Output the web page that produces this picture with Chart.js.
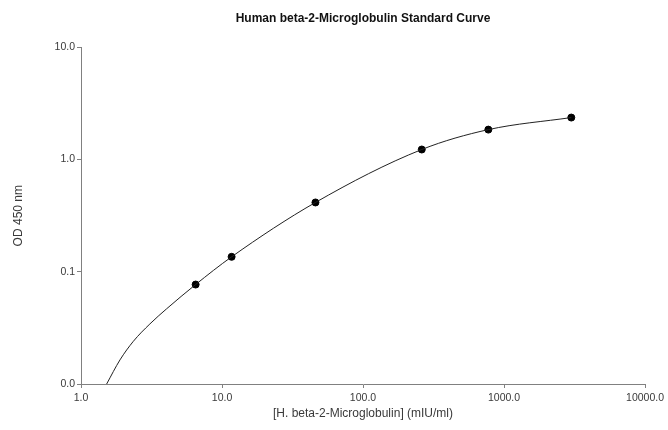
<!DOCTYPE html>
<html>
<head>
<meta charset="utf-8">
<script src="https://cdn.jsdelivr.net/npm/chart.js@4"></script>
<style>
	body{margin:0;background:#fff;}
	#wrap{width:668px;height:430px;}
</style>
</head>
<body>
<div id="wrap"><canvas id="stdCurve" width="668" height="430"></canvas></div>
<script>
//standard points (concentration, OD)
const concentrations = [6.5, 11.7, 46, 261, 774, 3000];
const odValues = [0.077, 0.136, 0.415, 1.23, 1.85, 2.37];
//fitted curve
const curveX = [1.52, 1.89, 2.35, 3.08, 4.04, 6.5, 11.7, 46, 261, 774, 3000];
const curveY = [0.01, 0.0164, 0.0240, 0.0343, 0.0467, 0.077, 0.136, 0.415, 1.23, 1.85, 2.37];
//tick labels
const xTicks = [1, 10, 100, 1000, 10000];
const yTicks = [0.01, 0.1, 1, 10];

const axisColor = '#808080';
const textColor = '#3a3a3a';
const fontName = '"Liberation Sans", Arial, sans-serif';

function toPoints(xs, ys){
	return xs.map(function(x, i){ return {x: x, y: ys[i]}; });
}

var ctx = document.getElementById('stdCurve');
var chart = new Chart(ctx, {
	type: 'scatter',
	data: {
		datasets: [{
			label: 'curve',
			type: 'line',
			data: toPoints(curveX, curveY),
			borderColor: '#222',
			borderWidth: 1,
			pointRadius: 0,
			cubicInterpolationMode: 'monotone',
			fill: false
		}, {
			label: 'standards',
			data: toPoints(concentrations, odValues),
			backgroundColor: '#000',
			borderColor: '#000',
			pointRadius: 3.5,
			pointHoverRadius: 3.5
		}]
	},
	options: {
		responsive: false,
		animation: false,
		layout: {padding: {left: 0, right: 22, top: 0, bottom: 0}},
		plugins: {
			legend: {display: false},
			tooltip: {enabled: false},
			title: {
				display: true,
				fullSize: false,
				text: 'Human beta-2-Microglobulin Standard Curve',
				color: '#111',
				font: {family: fontName, size: 12, weight: 'bold'},
				padding: {top: 11, bottom: 22}
			}
		},
		scales: {
			x: {
				type: 'logarithmic',
				min: 1,
				max: 10000,
				afterBuildTicks: function(axis){
					axis.ticks = xTicks.map(function(v){ return {value: v}; });
				},
				afterFit: function(axis){ axis.height = 46; },
				ticks: {
					autoSkip: false,
					maxRotation: 0,
					color: textColor,
					font: {family: fontName, size: 10.5},
					padding: 4,
					callback: function(v){ return Number(v).toFixed(1); }
				},
				grid: {display: true, drawOnChartArea: false, drawTicks: true, tickLength: 4, color: axisColor},
				border: {color: axisColor, width: 1},
				title: {
					display: true,
					text: '[H. beta-2-Microglobulin] (mIU/ml)',
					color: textColor,
					font: {family: fontName, size: 12},
					padding: {top: 6, bottom: 9}
				}
			},
			y: {
				type: 'logarithmic',
				min: 0.01,
				max: 10,
				afterBuildTicks: function(axis){
					axis.ticks = yTicks.map(function(v){ return {value: v}; });
				},
				afterFit: function(axis){ axis.width = 81; },
				ticks: {
					autoSkip: false,
					color: textColor,
					font: {family: fontName, size: 10.5},
					padding: 2,
					callback: function(v){ return Number(v).toFixed(1); }
				},
				grid: {display: true, drawOnChartArea: false, drawTicks: true, tickLength: 4, color: axisColor},
				border: {color: axisColor, width: 1},
				title: {
					display: true,
					text: 'OD 450 nm',
					color: textColor,
					font: {family: fontName, size: 12},
					padding: {top: 11, bottom: 0}
				}
			}
		}
	}
});
</script>
</body>
</html>
